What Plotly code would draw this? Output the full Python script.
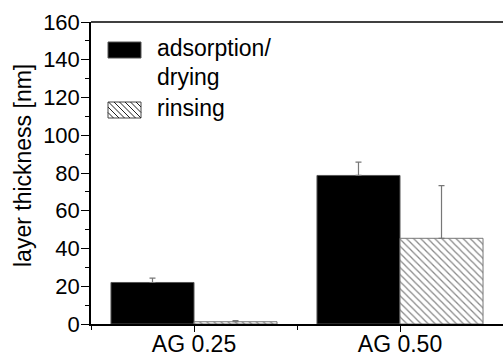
import plotly.graph_objects as go

categories = ["AG 0.25", "AG 0.50"]
adsorption = [22.0, 78.7]
adsorption_err = [2.3, 7.1]
rinsing = [1.2, 45.4]
rinsing_err = [0.6, 27.9]
y_ticks = [0, 20, 40, 60, 80, 100, 120, 140, 160]
legend_lines = ["adsorption/", "drying", "rinsing"]
y_title = "layer thickness [nm]"

FONT = "Liberation Sans, Arial, sans-serif"
W, H = 503, 358
L, R, T, B = 91, 0, 22, 34
PX0, PX1, PY0, PY1 = L, W - R, T, H - B

def px(x):
    return (x - PX0) / (PX1 - PX0)

def py(y):
    return (PY1 - y) / (PY1 - PY0)

xpos = list(range(len(categories)))

fig = go.Figure()
fig.add_trace(go.Bar(
    x=xpos, y=adsorption, name="adsorption/ drying",
    marker=dict(color="black", line=dict(color="#555", width=1)),
    error_y=dict(type="data", symmetric=False, array=adsorption_err,
                 arrayminus=[0] * len(adsorption_err),
                 color="#777", thickness=1.2, width=3),
    showlegend=False,
))
fig.add_trace(go.Bar(
    x=xpos, y=rinsing, name="rinsing",
    marker=dict(color="white", line=dict(color="#777", width=1),
                pattern=dict(shape="\\", fgcolor="#111", bgcolor="white",
                             size=5, solidity=0.25)),
    error_y=dict(type="data", symmetric=False, array=rinsing_err,
                 arrayminus=[0] * len(rinsing_err),
                 color="#777", thickness=1.2, width=3),
    showlegend=False,
))

shapes = []
shapes.append(dict(type="line", xref="paper", yref="paper", x0=0, x1=1, y0=1, y1=1,
                   line=dict(color="black", width=1.5)))
shapes.append(dict(type="rect", xref="paper", yref="paper",
                   x0=px(108), x1=px(141), y0=py(58), y1=py(42),
                   fillcolor="black", line=dict(color="#555", width=1)))
hx0, hx1, hy0, hy1 = 108, 141, 102, 118
segs = []
step = 5.5
k = hx0 - (hy1 - hy0)
while k < hx1:
    ya, yb = hy0, hy1
    xa, xb = k, k + (hy1 - hy0)
    if xa < hx0:
        ya = hy0 + (hx0 - xa); xa = hx0
    if xb > hx1:
        yb = hy1 - (xb - hx1); xb = hx1
    if ya < yb:
        segs.append(f"M{px(xa)},{py(ya)} L{px(xb)},{py(yb)}")
    k += step
shapes.append(dict(type="rect", xref="paper", yref="paper",
                   x0=px(hx0), x1=px(hx1), y0=py(hy1), y1=py(hy0),
                   fillcolor="white", line=dict(color="#444", width=1)))
shapes.append(dict(type="path", xref="paper", yref="paper", path=" ".join(segs),
                   line=dict(color="#222", width=1)))

annotations = []
for txt, yy in zip(legend_lines, [48, 77, 108]):
    annotations.append(dict(text=txt, xref="paper", yref="paper", x=px(155), y=py(yy),
                            xanchor="left", yanchor="middle", showarrow=False,
                            font=dict(family=FONT, size=23, color="black")))
annotations.append(dict(text=y_title, xref="paper", yref="paper",
                        x=px(23), y=py(166), textangle=-90,
                        xanchor="center", yanchor="middle", showarrow=False,
                        font=dict(family=FONT, size=23, color="black")))

fig.update_layout(
    width=W, height=H,
    margin=dict(l=L, r=R, t=T, b=B, autoexpand=False),
    paper_bgcolor="white", plot_bgcolor="white",
    barmode="group", bargap=0.194, bargroupgap=0,
    font=dict(family=FONT, size=22, color="black"),
    shapes=shapes, annotations=annotations,
    xaxis=dict(range=[-0.5, 1.5], tickvals=xpos, ticktext=categories,
               automargin=False, ticklabelstandoff=-7,
               showline=True, linecolor="black", linewidth=1.5,
               ticks="outside", ticklen=6, tickwidth=1.2, tickcolor="black",
               minor=dict(dtick=0.5, tick0=-0.5, ticks="outside", ticklen=4,
                          tickwidth=1.2, tickcolor="black"),
               showgrid=False, zeroline=False,
               tickfont=dict(family=FONT, size=23, color="black")),
    yaxis=dict(range=[0, 160], tickvals=y_ticks,
               automargin=False, ticklabelstandoff=-3,
               showline=True, linecolor="black", linewidth=1.5,
               ticks="outside", ticklen=8, tickwidth=1.2, tickcolor="black",
               minor=dict(dtick=10, ticks="outside", ticklen=4, tickwidth=1.2,
                          tickcolor="black"),
               showgrid=False, zeroline=False,
               tickfont=dict(family=FONT, size=22, color="black")),
)

fig.write_html("out.html")
